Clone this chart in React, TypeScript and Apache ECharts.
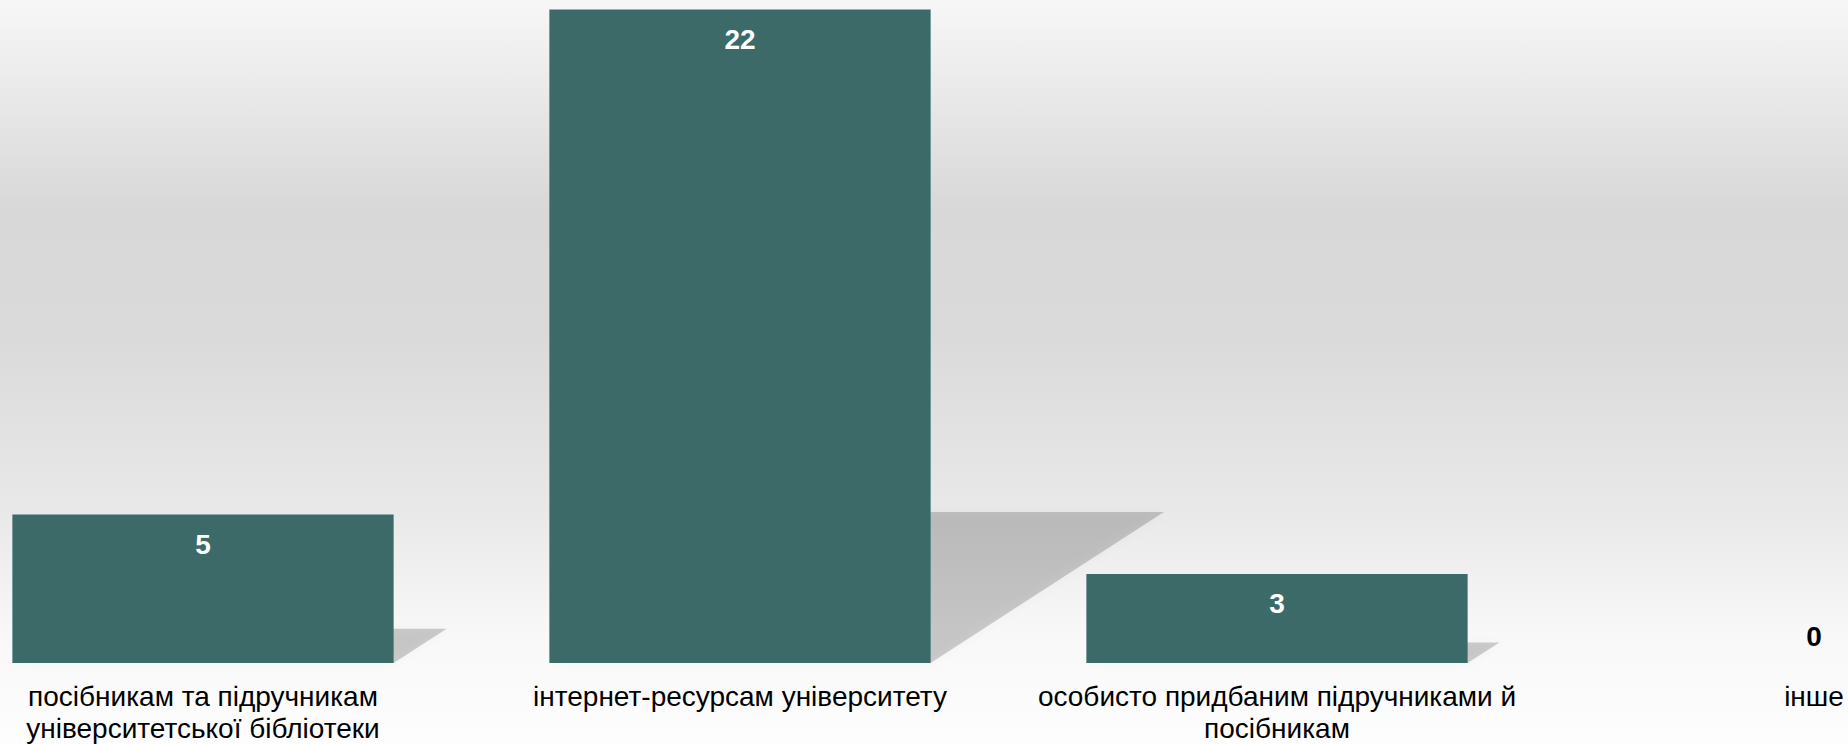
import React, { useEffect, useRef } from "react";
import * as echarts from "echarts";

const categories = [
  "посібникам та підручникам університетської бібліотеки",
  "інтернет-ресурсам університету",
  "особисто придбаним підручниками й посібникам",
  "інше",
];
const values = [5, 22, 3, 0];
const yMax = 22;

const BAR_COLOR = "#3b6a69";
const FONT = "'Liberation Sans', Arial, sans-serif";
const LABEL_SIZE = 28;
const WRAP_WIDTH = 560;

function wrapText(text: string): string {
  const canvas = document.createElement("canvas");
  const ctx = canvas.getContext("2d");
  if (!ctx) return text;
  ctx.font = `${LABEL_SIZE}px ${FONT}`;
  const words = text.split(" ");
  const lines: string[] = [];
  let cur = "";
  for (const w of words) {
    const test = cur ? cur + " " + w : w;
    if (cur && ctx.measureText(test).width > WRAP_WIDTH) {
      lines.push(cur);
      cur = w;
    } else {
      cur = test;
    }
  }
  if (cur) lines.push(cur);
  return lines.join("\n");
}

export default function App() {
  const ref = useRef<HTMLDivElement>(null);
  useEffect(() => {
    if (!ref.current) return;
    const chart = echarts.init(ref.current, null, { renderer: "svg" });
    const barRatio = 0.71;
    chart.setOption({
      animation: false,
      backgroundColor: {
        type: "linear",
        x: 0,
        y: 0,
        x2: 0,
        y2: 1,
        colorStops: [
          { offset: 0, color: "#f7f7f7" },
          { offset: 0.28, color: "#d8d8d8" },
          { offset: 0.45, color: "#dadada" },
          { offset: 0.68, color: "#e8e8e8" },
          { offset: 0.85, color: "#f8f8f8" },
          { offset: 1, color: "#fdfdfd" },
        ],
      },
      grid: {
        left: -65.5,
        width: 2148,
        top: 9.5,
        bottom: 81,
        containLabel: false,
        outerBoundsMode: "none",
      },
      xAxis: {
        type: "category",
        data: categories,
        axisLine: { show: false },
        axisTick: { show: false },
        splitLine: { show: false },
        axisLabel: {
          interval: 0,
          margin: 18,
          color: "#000",
          fontFamily: FONT,
          fontSize: LABEL_SIZE,
          lineHeight: 31.5,
          hideOverlap: false,
          formatter: (v: string) => wrapText(v),
        },
      },
      yAxis: { type: "value", min: 0, max: yMax, show: false, splitLine: { show: false } },
      series: [
        {
          type: "custom",
          z: 1,
          silent: true,
          data: values.map((v, i) => [i, v]),
          renderItem: (params: any, api: any) => {
            const idx = api.value(0);
            const v = api.value(1);
            if (!v) return null;
            const base = api.coord([idx, 0]);
            const top = api.coord([idx, v]);
            const bw = api.size([1, 0])[0] * barRatio;
            const h = base[1] - top[1];
            const x0 = base[0] - bw / 2;
            const x1 = base[0] + bw / 2;
            const dx = h * 0.357;
            const dy = h * 0.231;
            return {
              type: "polygon",
              shape: {
                points: [
                  [x0, base[1]],
                  [x1, base[1]],
                  [x1 + dx, base[1] - dy],
                  [x0 + dx, base[1] - dy],
                ],
              },
              style: {
                fill: "rgba(0,0,0,0.18)",
                shadowBlur: 10,
                shadowColor: "rgba(0,0,0,0.15)",
              },
            };
          },
        },
        {
          type: "bar",
          z: 2,
          barCategoryGap: "29%",
          data: values.map((v) =>
            v === 0
              ? {
                  value: v,
                  label: { position: "top", distance: 13, color: "#000" },
                }
              : { value: v }
          ),
          itemStyle: { color: BAR_COLOR },
          label: {
            show: true,
            position: "insideTop",
            distance: 16,
            color: "#fff",
            fontWeight: "bold",
            fontFamily: FONT,
            fontSize: 28,
          },
        },
      ],
    });
    return () => chart.dispose();
  }, []);
  return (
    <div
      ref={ref}
      style={{ position: "fixed", left: 0, top: 0, width: 1848, height: 744 }}
    />
  );
}
